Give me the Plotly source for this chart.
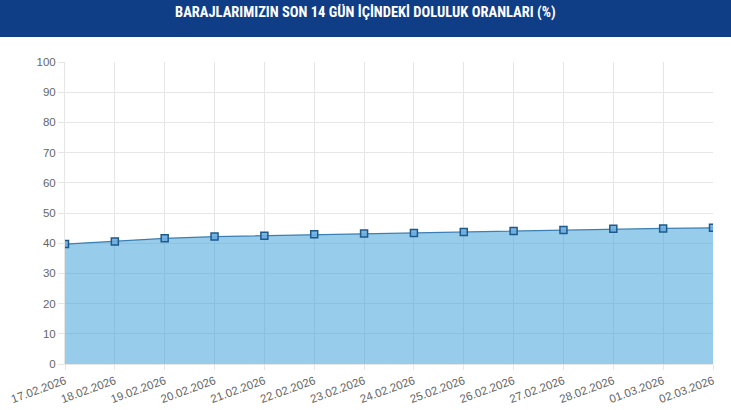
import plotly.graph_objects as go

# Dates shown on the x-axis
dates = [
    "17.02.2026", "18.02.2026", "19.02.2026", "20.02.2026", "21.02.2026",
    "22.02.2026", "23.02.2026", "24.02.2026", "25.02.2026", "26.02.2026",
    "27.02.2026", "28.02.2026", "01.03.2026", "02.03.2026",
]
# Dam fill rate (%)
rates = [39.7, 40.6, 41.6, 42.2, 42.5, 43.0, 43.2, 43.4, 43.7, 44.0, 44.4, 44.8, 44.9, 45.1]

y_ticks = list(range(0, 101, 10))

TITLE = "BARAJLARIMIZIN SON 14 GÜN İÇİNDEKİ DOLULUK ORANLARI (%)"
GRID = "#e6e6e6"
TICK_FONT = dict(family="Liberation Sans, Arial", size=11.5, color="#666666")

fig = go.Figure()
fig.add_trace(
    go.Scatter(
        x=dates,
        y=rates,
        mode="lines+markers",
        fill="tozeroy",
        fillcolor="rgba(47,155,215,0.5)",
        line=dict(color="#3d7fb3", width=1.3),
        marker=dict(
            symbol="square",
            size=7,
            color="rgba(110,175,225,0.9)",
            line=dict(color="#1f5a8c", width=1.5),
        ),
        hoverinfo="x+y",
        showlegend=False,
    )
)

fig.update_layout(
    width=731,
    height=410,
    margin=dict(l=65, r=18, t=62, b=46),
    paper_bgcolor="white",
    plot_bgcolor="white",
    # header band
    shapes=[
        dict(
            type="rect", xref="paper", yref="paper",
            x0=-0.2, x1=1.2, y0=1 + 25 / 302, y1=1 + 70 / 302,
            fillcolor="#0f3d86", line=dict(width=0), layer="below",
        ),
    ],
    annotations=[
        dict(
            text="<b>" + TITLE + "</b>",
            xref="paper", yref="paper",
            # centred on the page, not on the plot area
            x=(365.5 - 65) / 648, y=1 + 49 / 302, xanchor="center", yanchor="middle",
            showarrow=False,
            font=dict(family="Roboto Condensed, Roboto, Arial", size=14.5, color="white"),
        ),
    ],
)

fig.update_xaxes(
    type="category",
    range=[0, len(dates) - 1],
    automargin=False,
    showgrid=True,
    gridcolor=GRID,
    ticks="outside",
    ticklen=5,
    tickcolor=GRID,
    tickangle=-20,
    tickfont=TICK_FONT,
    showline=True,
    linecolor=GRID,
    fixedrange=True,
)
fig.update_yaxes(
    range=[0, 100],
    tickvals=y_ticks,
    automargin=False,
    showgrid=True,
    gridcolor=GRID,
    zeroline=False,
    ticks="outside",
    ticklen=6,
    tickcolor=GRID,
    tickfont=TICK_FONT,
    showline=True,
    linecolor=GRID,
    fixedrange=True,
)

# drop the browser's default body margin so the figure sits at the page corner
fig.write_html(
    "out.html",
    config={"displayModeBar": False},
    post_script="document.body.style.margin='0';",
)
